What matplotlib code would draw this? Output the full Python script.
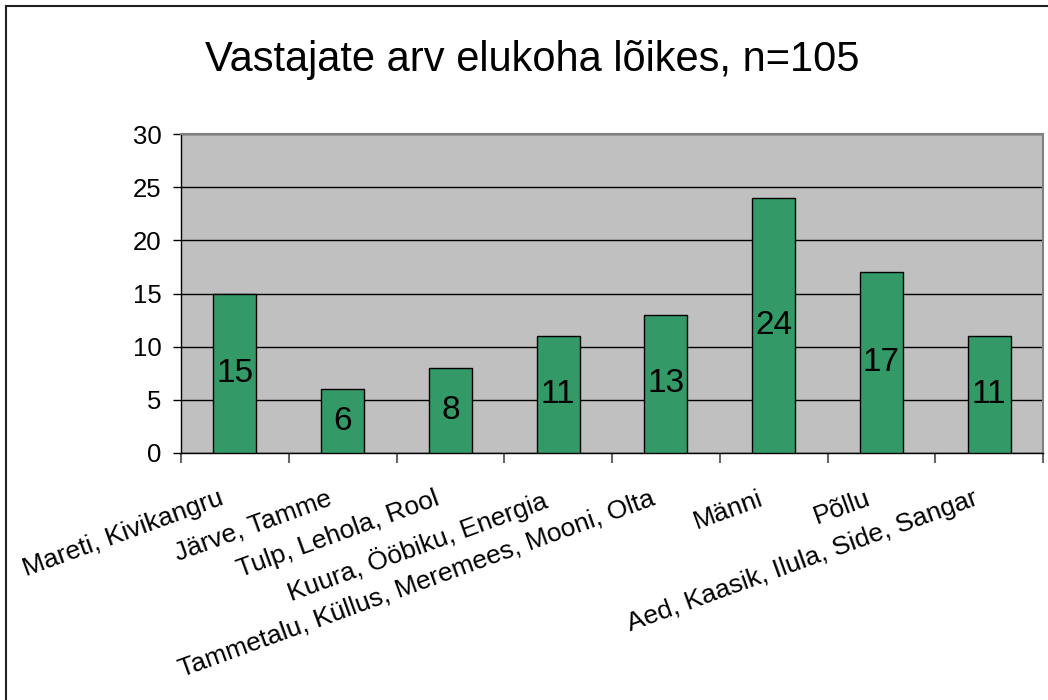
import numpy as np
import matplotlib
matplotlib.use("Agg")
import matplotlib.pyplot as plt
import matplotlib.transforms as mtransforms
from matplotlib.lines import Line2D

plt.rcParams["font.family"] = ["Liberation Sans", "DejaVu Sans"]

# Data
places = [
    "Mareti, Kivikangru",
    "Järve, Tamme",
    "Tulp, Lehola, Rool",
    "Kuura, Ööbiku, Energia",
    "Tammetalu, Küllus, Meremees, Mooni, Olta",
    "Männi",
    "Põllu",
    "Aed, Kaasik, Ilula, Side, Sangar",
]
counts = [15, 6, 8, 11, 13, 24, 17, 11]
yticks = [0, 5, 10, 15, 20, 25, 30]
title = "Vastajate arv elukoha lõikes, n=105"

fig = plt.figure(figsize=(10.48, 7.0), dpi=100)
ax = fig.add_axes([181 / 1048, 1 - 453 / 700, (1043 - 181) / 1048, (453 - 134) / 700])
ax.set_facecolor("#C0C0C0")

x = np.arange(len(places))
bars = ax.bar(x, counts, width=0.4, color="#339966", edgecolor="black", linewidth=1, zorder=3)
ax.bar_label(bars, labels=[str(c) for c in counts], label_type="center", fontsize=24, zorder=4)

ax.set_xlim(-0.5, len(places) - 0.5)
ax.set_ylim(0, 30)
ax.set_yticks(yticks)
ax.tick_params(axis="y", labelsize=18.5, length=6, width=1, direction="out", pad=8)
ax.yaxis.grid(True, color="black", linewidth=1, zorder=1)
ax.set_axisbelow(True)

# category boundaries as major ticks, names on minor ticks
ax.set_xticks(np.arange(len(places) + 1) - 0.5)
ax.set_xticklabels([])
ax.tick_params(axis="x", which="major", length=7, width=1.5, color="#666666")
ax.set_xticks(x, minor=True)
ax.set_xticklabels(places, minor=True, fontsize=19)
ax.tick_params(axis="x", which="minor", length=0, pad=22)
shift = mtransforms.ScaledTranslation(-16 / 100, -3 / 100, fig.dpi_scale_trans)
for lab in ax.get_xticklabels(minor=True):
    lab.set_rotation(20)
    lab.set_ha("right")
    lab.set_va("top")
    lab.set_rotation_mode("anchor")
    lab.set_transform(lab.get_transform() + shift)

for side in ["left", "bottom"]:
    ax.spines[side].set_color("black")
    ax.spines[side].set_linewidth(1)
for side in ["top", "right"]:
    ax.spines[side].set_color("#808080")
    ax.spines[side].set_linewidth(1.5)

fig.text(0.508, 0.914, title, ha="center", va="center", fontsize=30)

# chart border (left and top visible)
fig.add_artist(Line2D([6 / 1048, 6 / 1048], [0, 1 - 6 / 700], transform=fig.transFigure, color="#222222", linewidth=1.5))
fig.add_artist(Line2D([6 / 1048, 1], [1 - 6 / 700, 1 - 6 / 700], transform=fig.transFigure, color="#222222", linewidth=1.5))

fig.savefig("out.png", dpi=100)
